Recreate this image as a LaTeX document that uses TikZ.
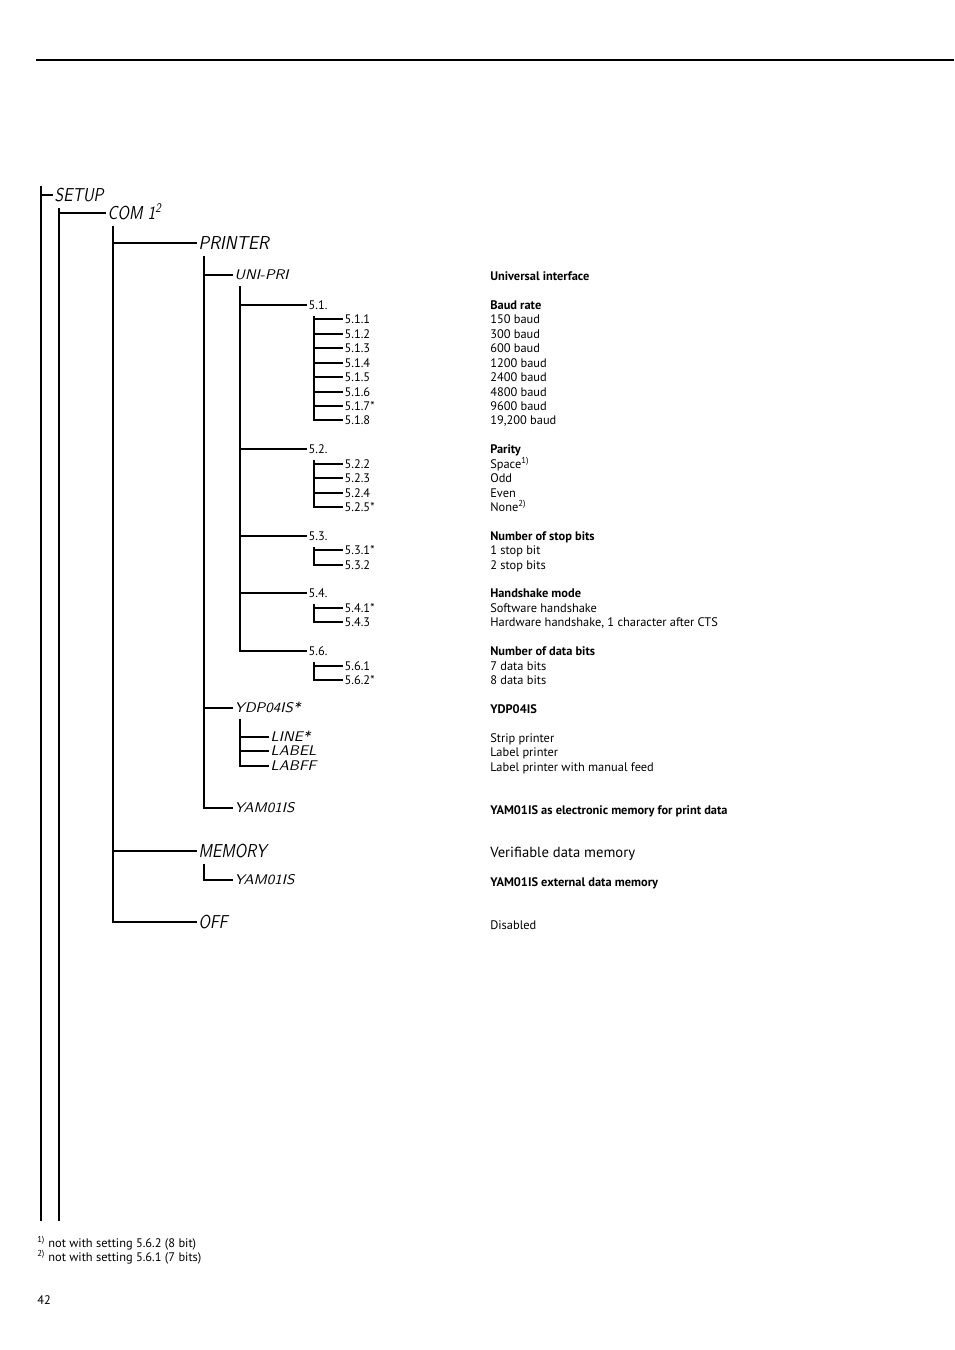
\documentclass[tikz,border=0pt]{standalone}
\usepackage{fontspec}
\setmainfont{PT Sans}
\newcommand{\lcdtxt}[2][0.85]{\scalebox{#1}[1]{\sffamily\slshape #2}}
\begin{document}
\begin{tikzpicture}[x=0.75pt,y=-0.75pt,
  wire/.style={line width=0.8pt, line cap=rect},
  big/.style={anchor=west, inner sep=0pt, outer sep=2pt, font=\fontsize{14}{16}\selectfont, text height=9.7pt, text depth=0pt},
  small/.style={anchor=west, inner sep=0pt, outer sep=2pt, font=\fontsize{10.5}{12}\selectfont, text height=7.3pt, text depth=0pt},
  num/.style={anchor=west, inner sep=0pt, outer sep=2pt, font=\fontsize{9.3}{11}\selectfont, text height=6.6pt, text depth=0pt},
  desc/.style={anchor=west, inner sep=0pt, font=\fontsize{9.3}{11}\selectfont, text height=6.6pt, text depth=0pt},
  head/.style={desc, font=\fontsize{9.3}{11}\selectfont\bfseries},
  foot/.style={anchor=west, inner sep=0pt, font=\fontsize{9.3}{11}\selectfont, text height=6.6pt, text depth=0pt}]
\useasboundingbox (0,0) rectangle (954,1350);
% top rule
\coordinate (ruleL) at (36,60);
\coordinate (ruleR) at (954,60);
\draw[line width=0.8pt] (ruleL) -- (ruleR);

% tree labels
\node[big] (setup) at (52,195) {\lcdtxt{SETUP}};
\node[big] (com) at (105,213) {\lcdtxt{COM 1\textsuperscript{2}}};
\node[big] (printer) at (196,243) {\lcdtxt[0.92]{PRINTER}};
\node[small] (unipri) at (232,275) {\lcdtxt[1.08]{UNI-PRI}};
\node[num] (g51) at (306,305) {5.1.};
\node[num] (i511) at (342,319) {5.1.1};
\node[num] (i512) at (342,334) {5.1.2};
\node[num] (i513) at (342,348) {5.1.3};
\node[num] (i514) at (342,363) {5.1.4};
\node[num] (i515) at (342,377) {5.1.5};
\node[num] (i516) at (342,392) {5.1.6};
\node[num] (i517) at (342,406) {5.1.7*};
\node[num] (i518) at (342,420) {5.1.8};
\node[num] (g52) at (306,449) {5.2.};
\node[num] (i522) at (342,464) {5.2.2};
\node[num] (i523) at (342,478) {5.2.3};
\node[num] (i524) at (342,493) {5.2.4};
\node[num] (i525) at (342,507) {5.2.5*};
\node[num] (g53) at (306,536) {5.3.};
\node[num] (i531) at (342,550) {5.3.1*};
\node[num] (i532) at (342,565) {5.3.2};
\node[num] (g54) at (306,593) {5.4.};
\node[num] (i541) at (342,608) {5.4.1*};
\node[num] (i543) at (342,622) {5.4.3};
\node[num] (g56) at (306,651) {5.6.};
\node[num] (i561) at (342,666) {5.6.1};
\node[num] (i562) at (342,680) {5.6.2*};
\node[small] (ydp) at (232,708) {\lcdtxt[1.08]{YDP04IS*}};
\node[small] (line) at (268,737) {\lcdtxt[1.08]{LINE*}};
\node[small] (label) at (268,751) {\lcdtxt[1.08]{LABEL}};
\node[small] (labff) at (268,766) {\lcdtxt[1.08]{LABFF}};
\node[small] (yam1) at (232,808) {\lcdtxt[1.08]{YAM01IS}};
\node[big] (memory) at (196,851) {\lcdtxt{MEMORY}};
\node[small] (yam2) at (232,880) {\lcdtxt[1.08]{YAM01IS}};
\node[big] (off) at (196,922) {\lcdtxt{OFF}};

% outer verticals
\coordinate (top1) at (41,187);
\coordinate (bot1) at (41,1220);
\coordinate (bot2) at (59,1220);
\draw[wire] (top1) -- (bot1);
\draw[wire] (top1 |- setup.west) -- (setup.west);
\draw[wire] ([yshift=-3pt]setup.south -| bot2) -- (bot2);
\draw[wire] ([yshift=-3pt]setup.south -| bot2) |- (com.west);

% branches
\foreach \p/\c in {com/printer, com/memory, com/off,
                   printer/unipri, printer/ydp, printer/yam1,
                   unipri/g51, unipri/g52, unipri/g53, unipri/g54, unipri/g56,
                   g51/i511, g51/i512, g51/i513, g51/i514, g51/i515, g51/i516, g51/i517, g51/i518,
                   g52/i522, g52/i523, g52/i524, g52/i525,
                   g53/i531, g53/i532, g54/i541, g54/i543, g56/i561, g56/i562,
                   ydp/line, ydp/label, ydp/labff, memory/yam2}
  \draw[wire] ([shift={(8,4)}]\p.south west) |- (\c.west);

% descriptions
\node[head] (d1) at (490,276) {Universal interface};
\node[head] (d2) at (490,305) {Baud rate};
\node[desc] (d3) at (490,319) {150 baud};
\node[desc] (d4) at (490,334) {300 baud};
\node[desc] (d5) at (490,348) {600 baud};
\node[desc] (d6) at (490,363) {1200 baud};
\node[desc] (d7) at (490,377) {2400 baud};
\node[desc] (d8) at (490,392) {4800 baud};
\node[desc] (d9) at (490,406) {9600 baud};
\node[desc] (d10) at (490,420) {19,200 baud};
\node[head] (d11) at (490,449) {Parity};
\node[desc] (d12) at (490,464) {Space\textsuperscript{1)}};
\node[desc] (d13) at (490,478) {Odd};
\node[desc] (d14) at (490,493) {Even};
\node[desc] (d15) at (490,507) {None\textsuperscript{2)}};
\node[head] (d16) at (490,536) {Number of stop bits};
\node[desc] (d17) at (490,550) {1 stop bit};
\node[desc] (d18) at (490,565) {2 stop bits};
\node[head] (d19) at (490,593) {Handshake mode};
\node[desc] (d20) at (490,608) {Software handshake};
\node[desc] (d21) at (490,622) {Hardware handshake, 1 character after CTS};
\node[head] (d22) at (490,651) {Number of data bits};
\node[desc] (d23) at (490,666) {7 data bits};
\node[desc] (d24) at (490,680) {8 data bits};
\node[head] (d25) at (490,709) {YDP04IS};
\node[desc] (d26) at (490,738) {Strip printer};
\node[desc] (d27) at (490,752) {Label printer};
\node[desc] (d28) at (490,767) {Label printer with manual feed};
\node[head] (d29) at (490,810) {YAM01IS as electronic memory for print data};
\node[desc, font=\fontsize{11}{13}\selectfont, text height=7.8pt] (d30) at (490,852) {Verifiable data memory};
\node[head] (d31) at (490,882) {YAM01IS external data memory};
\node[desc] (d32) at (490,925) {Disabled};

% footnotes and page number
\node[foot] (f1) at (37,1243) {\textsuperscript{1)} not with setting 5.6.2 (8 bit)};
\node[foot] (f2) at (37,1257) {\textsuperscript{2)} not with setting 5.6.1 (7 bits)};
\node[foot] (page) at (37,1300) {42};
\end{tikzpicture}
\end{document}
